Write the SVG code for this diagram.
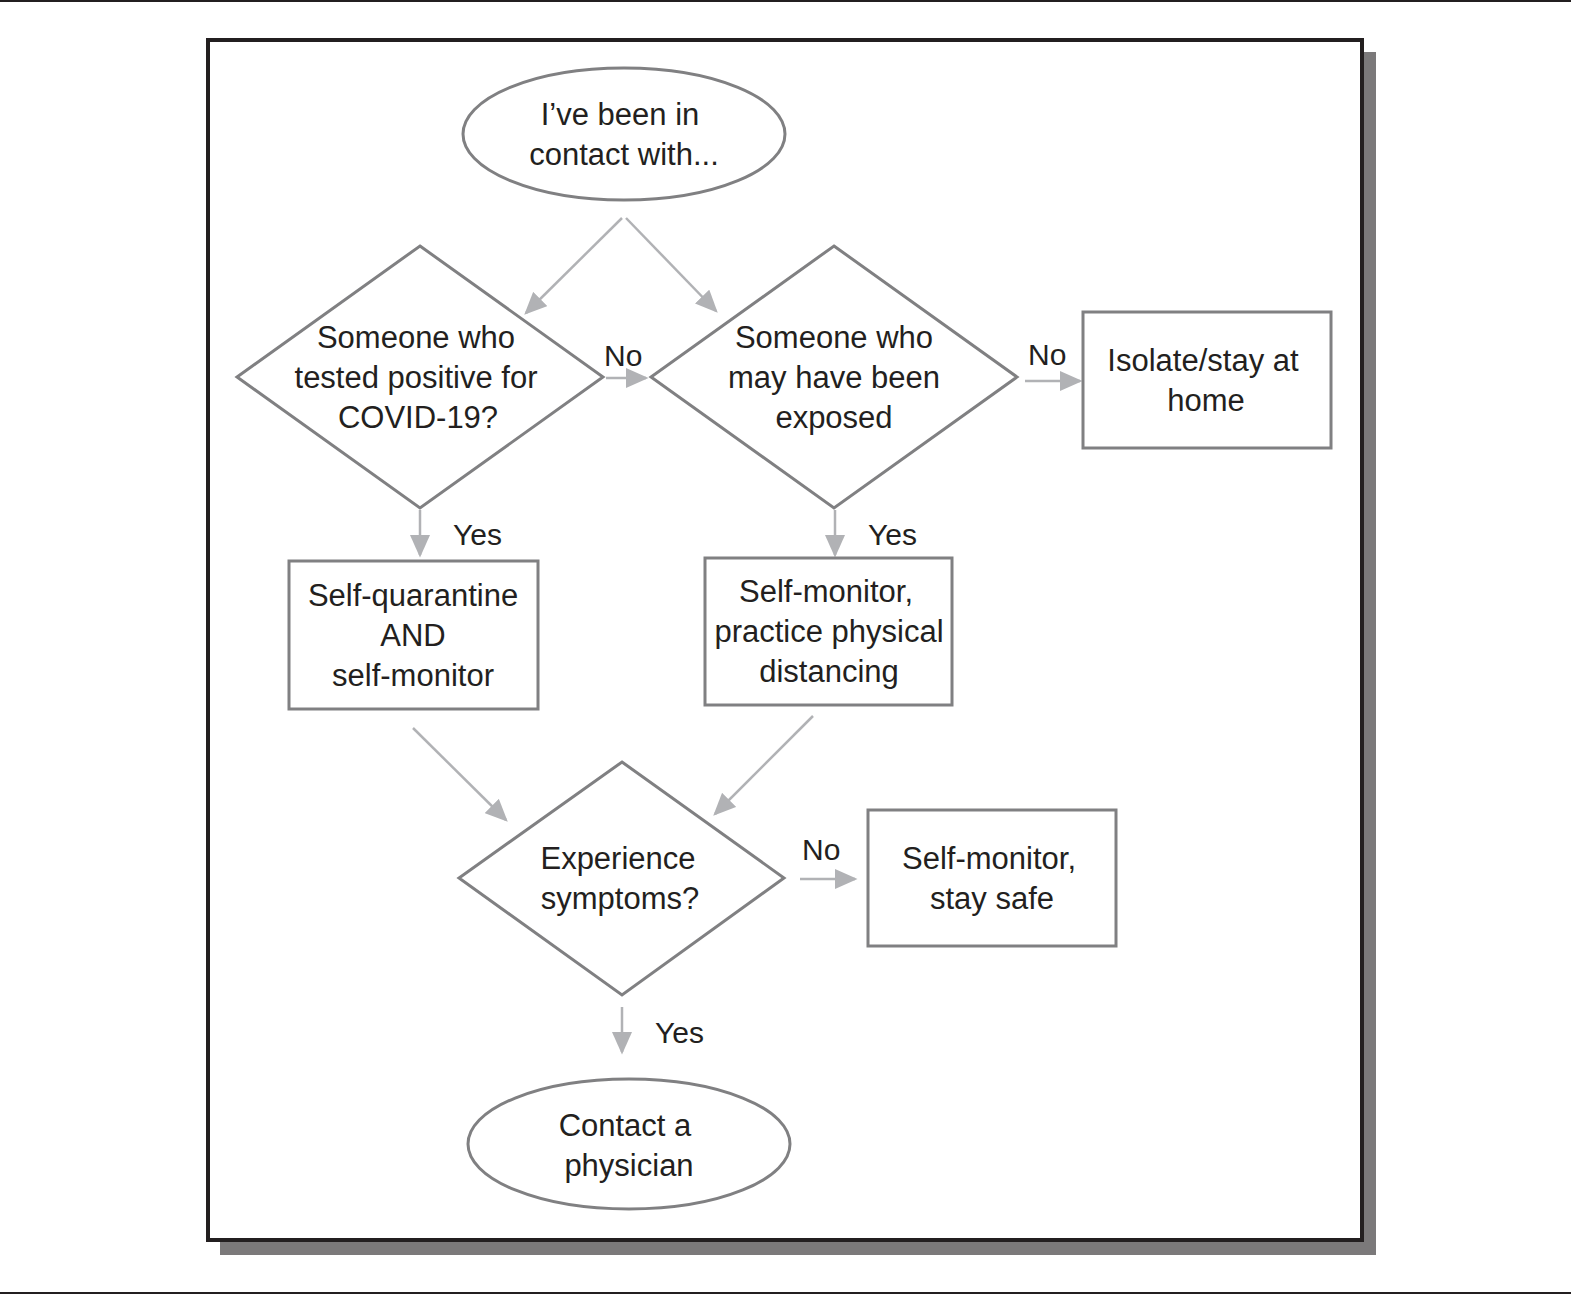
<svg xmlns="http://www.w3.org/2000/svg" width="1571" height="1295" viewBox="0 0 1571 1295">
<style>
.node{fill:#fff;stroke:#808082;stroke-width:3}
.t{font-family:"Liberation Sans",Arial,sans-serif;font-size:31px;fill:#231f20;text-anchor:middle}
.lab{font-family:"Liberation Sans",Arial,sans-serif;font-size:30px;fill:#231f20}
.c{stroke:#b1b2b5;stroke-width:2.5;fill:none;marker-end:url(#ah)}
</style>
<defs>
<marker id="ah" markerWidth="9" markerHeight="8" refX="8" refY="4" orient="auto" markerUnits="strokeWidth">
<path d="M0,0 L9,4 L0,8 Z" fill="#b1b2b5"/>
</marker>
</defs>
<rect width="1571" height="1295" fill="#fff"/>
<line x1="0" y1="1" x2="1571" y2="1" stroke="#231f20" stroke-width="2"/>
<line x1="0" y1="1293" x2="1571" y2="1293" stroke="#231f20" stroke-width="2"/>
<rect x="220" y="52" width="1156" height="1203" fill="#7b797a"/>
<rect x="208" y="40" width="1154" height="1200" fill="#fff" stroke="#231f20" stroke-width="4"/>

<g id="connectors">
<line class="c" x1="622" y1="218" x2="526" y2="313"/>
<line class="c" x1="626" y1="218" x2="716" y2="311"/>
<line class="c" x1="606" y1="378" x2="646" y2="378"/>
<line class="c" x1="1025" y1="381" x2="1080" y2="381"/>
<line class="c" x1="420" y1="510" x2="420" y2="555"/>
<line class="c" x1="835" y1="510" x2="835" y2="555"/>
<line class="c" x1="413" y1="728" x2="506" y2="820"/>
<line class="c" x1="813" y1="716" x2="715" y2="814"/>
<line class="c" x1="800" y1="879" x2="855" y2="879"/>
<line class="c" x1="622" y1="1007" x2="622" y2="1052"/>
<text class="lab" x="604" y="366">No</text>
<text class="lab" x="1028" y="365">No</text>
<text class="lab" x="453" y="545">Yes</text>
<text class="lab" x="868" y="545">Yes</text>
<text class="lab" x="802" y="860">No</text>
<text class="lab" x="655" y="1043">Yes</text>
</g>

<g id="start">
<ellipse class="node" cx="624" cy="134" rx="161" ry="66"/>
<text class="t" x="620" y="125">I’ve been in</text>
<text class="t" x="624" y="165">contact with...</text>
</g>

<g id="q1">
<polygon class="node" points="420,246 603,377 420,508 237,377"/>
<text class="t" x="416" y="348">Someone who</text>
<text class="t" x="416" y="388">tested positive for</text>
<text class="t" x="418" y="428">COVID-19?</text>
</g>

<g id="q2">
<polygon class="node" points="834,246 1017,377 834,508 651,377"/>
<text class="t" x="834" y="348">Someone who</text>
<text class="t" x="834" y="388">may have been</text>
<text class="t" x="834" y="428">exposed</text>
</g>

<g id="isolate">
<rect class="node" x="1083" y="312" width="248" height="136"/>
<text class="t" x="1203" y="371">Isolate/stay at</text>
<text class="t" x="1206" y="411">home</text>
</g>

<g id="quarantine">
<rect class="node" x="289" y="561" width="249" height="148"/>
<text class="t" x="413" y="606">Self-quarantine</text>
<text class="t" x="413" y="646">AND</text>
<text class="t" x="413" y="686">self-monitor</text>
</g>

<g id="distancing">
<rect class="node" x="705" y="558" width="247" height="147"/>
<text class="t" x="826" y="602">Self-monitor,</text>
<text class="t" x="829" y="642">practice physical</text>
<text class="t" x="829" y="682">distancing</text>
</g>

<g id="q3">
<polygon class="node" points="622,762 784,878 622,995 459,878"/>
<text class="t" x="618" y="869">Experience</text>
<text class="t" x="620" y="909">symptoms?</text>
</g>

<g id="safe">
<rect class="node" x="868" y="810" width="248" height="136"/>
<text class="t" x="989" y="869">Self-monitor,</text>
<text class="t" x="992" y="909">stay safe</text>
</g>

<g id="physician">
<ellipse class="node" cx="629" cy="1144" rx="161" ry="65"/>
<text class="t" x="625" y="1136">Contact a</text>
<text class="t" x="629" y="1176">physician</text>
</g>
</svg>
